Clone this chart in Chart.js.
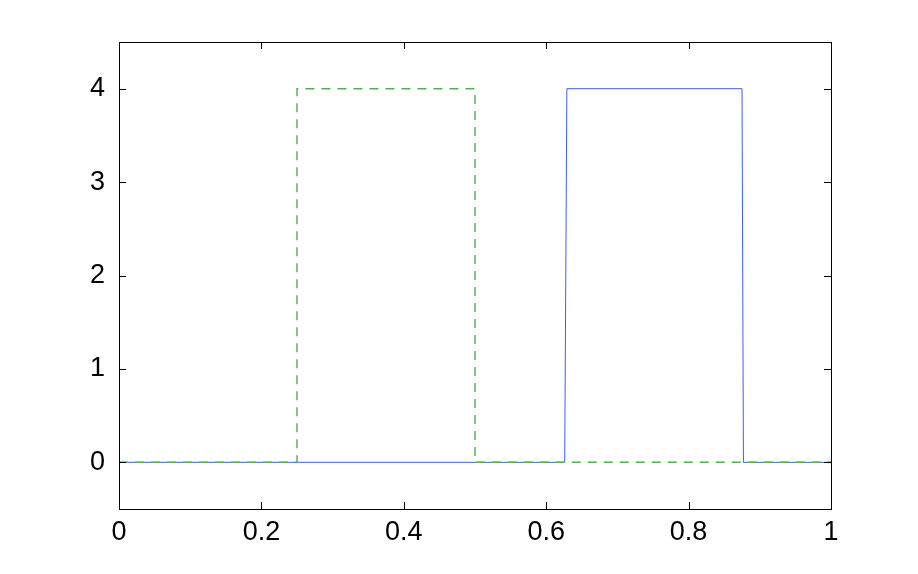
<!DOCTYPE html>
<html>
<head>
<meta charset="utf-8">
<script src="https://cdn.jsdelivr.net/npm/chart.js@4/dist/chart.umd.min.js"></script>
<style>
  html, body { margin: 0; padding: 0; background: #fff; }
  #wrap { width: 918px; height: 574px; }
</style>
</head>
<body>
<div id="wrap"><canvas id="chart"></canvas></div>
<script>
// step signals
const solidX = [0, 0.626, 0.629, 0.875, 0.877, 1];
const solidY = [0, 0, 4, 4, 0, 0];
const dashedX = [0, 0.25, 0.25, 0.5, 0.5, 1];
const dashedY = [0, 0, 4, 4, 0, 0];
const xTicks = [0, 0.2, 0.4, 0.6, 0.8, 1];
const yTicks = [0, 1, 2, 3, 4];

const toPoints = (xs, ys) => xs.map((x, i) => ({ x: x, y: ys[i] }));

// MATLAB-like box with inward tick marks
const boxTicks = {
  id: 'boxTicks',
  afterDatasetsDraw(chart) {
    const { ctx, chartArea: a, scales } = chart;
    ctx.save();
    ctx.strokeStyle = '#000';
    ctx.lineWidth = 1;
    ctx.strokeRect(Math.round(a.left) + 0.5, Math.round(a.top) + 0.5,
      Math.round(a.right - a.left), Math.round(a.bottom - a.top));
    const len = 7;
    ctx.beginPath();
    xTicks.forEach(v => {
      const px = Math.round(scales.x.getPixelForValue(v)) + 0.5;
      ctx.moveTo(px, a.bottom); ctx.lineTo(px, a.bottom - len);
      ctx.moveTo(px, a.top); ctx.lineTo(px, a.top + len);
    });
    yTicks.forEach(v => {
      const py = Math.round(scales.y.getPixelForValue(v)) + 0.5;
      ctx.moveTo(a.left, py); ctx.lineTo(a.left + len, py);
      ctx.moveTo(a.right, py); ctx.lineTo(a.right - len, py);
    });
    ctx.stroke();
    ctx.restore();
  }
};

new Chart(document.getElementById('chart'), {
  type: 'line',
  data: {
    datasets: [
      {
        data: toPoints(solidX, solidY),
        borderColor: '#3d5cff',
        borderWidth: 1,
        pointRadius: 0,
        tension: 0,
        fill: false,
        order: 2
      },
      {
        data: toPoints(dashedX, dashedY),
        borderColor: '#4db34d',
        borderWidth: 1.4,
        borderDash: [9, 7],
        pointRadius: 0,
        tension: 0,
        fill: false,
        order: 1
      }
    ]
  },
  options: {
    responsive: true,
    maintainAspectRatio: false,
    animation: false,
    layout: { padding: { top: 42, right: 87, left: 0, bottom: 0 } },
    plugins: { legend: { display: false }, tooltip: { enabled: false } },
    scales: {
      x: {
        type: 'linear',
        min: 0,
        max: 1,
        afterBuildTicks: s => { s.ticks = xTicks.map(v => ({ value: v })); },
        afterFit: s => { s.height = 65; },
        grid: { display: false },
        border: { display: false },
        ticks: {
          color: '#000',
          padding: -1,
          maxRotation: 0,
          font: { family: 'Liberation Sans', size: 27 },
          callback: v => String(v)
        }
      },
      y: {
        type: 'linear',
        min: -0.5,
        max: 4.5,
        afterBuildTicks: s => { s.ticks = yTicks.map(v => ({ value: v })); },
        afterFit: s => { s.width = 119; },
        grid: { display: false },
        border: { display: false },
        ticks: {
          color: '#000',
          padding: 6,
          font: { family: 'Liberation Sans', size: 27 },
          callback: v => String(v)
        }
      }
    }
  },
  plugins: [boxTicks]
});
</script>
</body>
</html>
